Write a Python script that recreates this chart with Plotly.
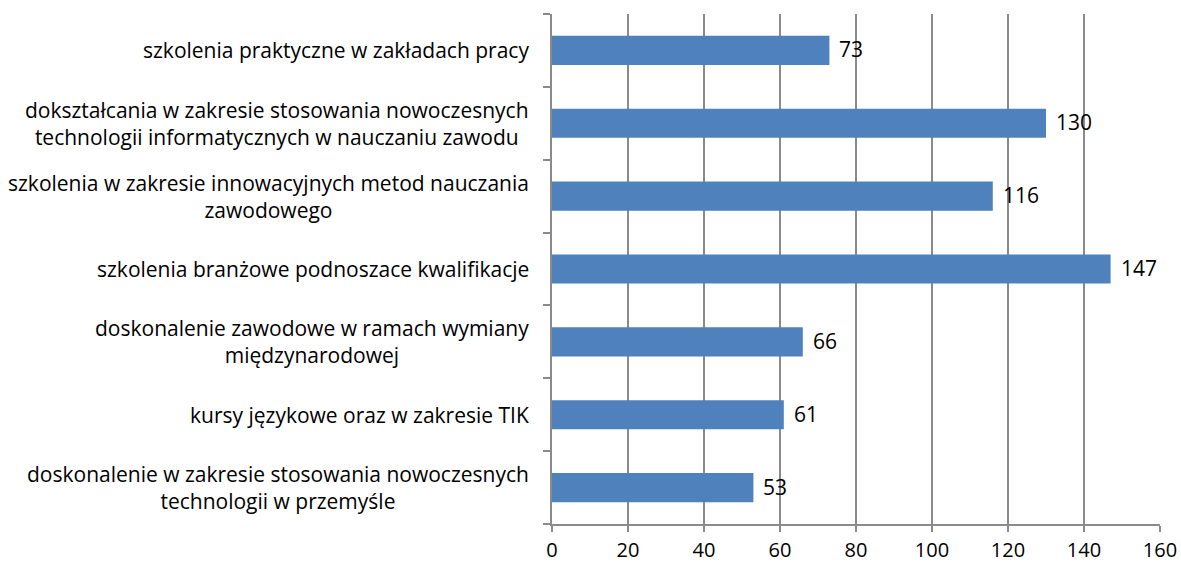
import plotly.graph_objects as go

categories = [
    "szkolenia praktyczne w zakładach pracy",
    "dokształcania w zakresie stosowania nowoczesnych<br>technologii informatycznych w nauczaniu zawodu",
    "szkolenia w zakresie innowacyjnych metod nauczania<br>zawodowego",
    "szkolenia branżowe podnoszace kwalifikacje",
    "doskonalenie zawodowe w ramach wymiany<br>międzynarodowej",
    "kursy językowe oraz w zakresie TIK",
    "doskonalenie w zakresie stosowania nowoczesnych<br>technologii w przemyśle",
]
values = [73, 130, 116, 147, 66, 61, 53]
x_ticks = [0, 20, 40, 60, 80, 100, 120, 140, 160]

FONT = "Open Sans, Calibri, sans-serif"
FS = 21
GRID = "#8a8a8a"

fig = go.Figure()
fig.add_trace(go.Bar(
    y=categories, x=values, orientation="h",
    marker=dict(color="#4F81BD", line=dict(width=0)),
    width=0.4,
    cliponaxis=False,
    hoverinfo="skip",
))

for c, v in zip(categories, values):
    fig.add_annotation(
        x=0, xref="paper", y=c, yref="y", text=c, showarrow=False,
        xanchor="right", yanchor="middle", align="center", xshift=-21,
        font=dict(family=FONT, size=FS, color="black"),
    )
    fig.add_annotation(
        x=v, xref="x", y=c, yref="y", text=str(v), showarrow=False,
        xanchor="left", yanchor="middle", xshift=8, yshift=1,
        font=dict(family=FONT, size=FS, color="black"),
    )

fig.update_layout(
    template="none",
    width=1181, height=564,
    margin=dict(l=552, r=21, t=14, b=40, autoexpand=False),
    paper_bgcolor="white", plot_bgcolor="white",
    showlegend=False,
    font=dict(family=FONT, size=FS, color="black"),
)
fig.update_xaxes(
    automargin=False,
    range=[0, 160], tickvals=x_ticks, ticktext=[str(t) for t in x_ticks],
    showgrid=True, gridcolor=GRID, gridwidth=1.5,
    showline=True, linecolor=GRID, linewidth=1.5,
    ticks="outside", ticklen=6, tickcolor=GRID, tickwidth=1.5,
    ticklabelstandoff=1,
    zeroline=False, tickfont=dict(family=FONT, size=20, color="black"),
)
fig.update_yaxes(
    automargin=False,
    categoryorder="array", categoryarray=categories[::-1],
    showticklabels=False, showgrid=False,
    showline=True, linecolor=GRID, linewidth=1.5,
    ticks="outside", ticklen=7, tickcolor=GRID, tickwidth=1.5,
    tickson="boundaries", zeroline=False,
)

fig.write_html("out.html", config={"displayModeBar": False},
               post_script="document.body.style.margin='0px';")
